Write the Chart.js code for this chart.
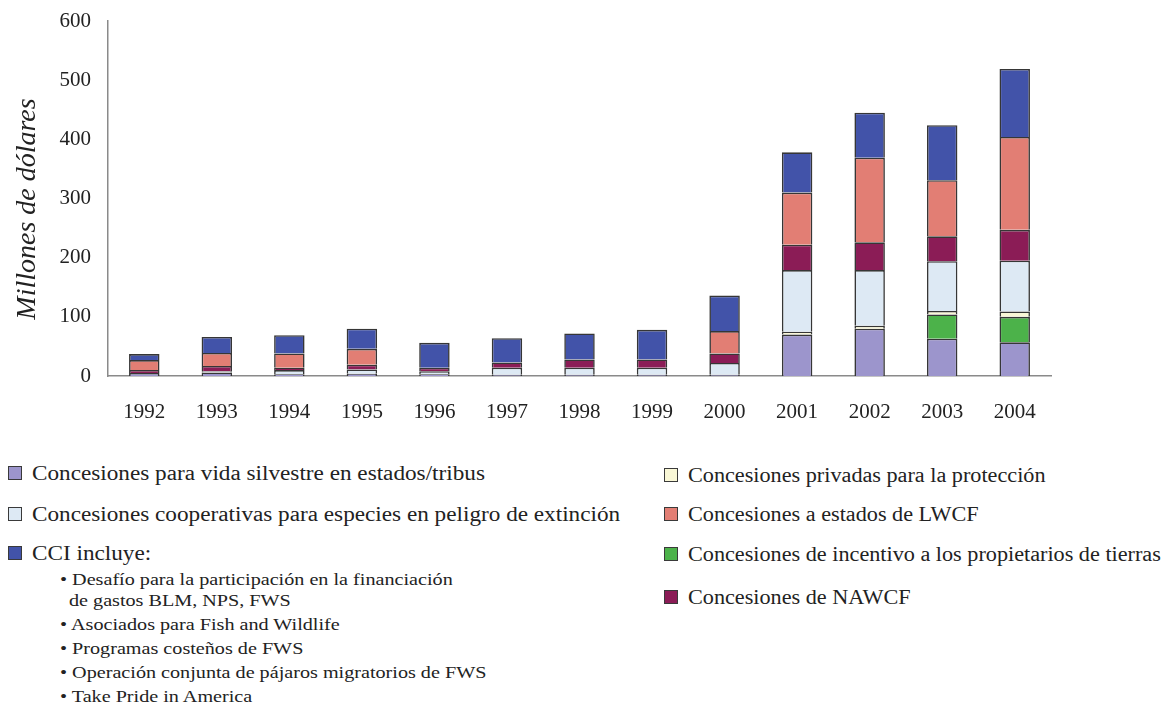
<!DOCTYPE html>
<html><head><meta charset="utf-8">
<script src="https://cdn.jsdelivr.net/npm/chart.js@4.4.1/dist/chart.umd.min.js"></script>
<style>
html,body{margin:0;padding:0;background:#fff;}
body{width:1162px;height:704px;overflow:hidden;position:relative;font-family:"Liberation Serif","Times New Roman",serif;color:#222;}
#c{position:absolute;left:0;top:0;}
.item{position:absolute;white-space:nowrap;height:26px;line-height:26px;font-size:20px;transform:scaleX(1.16);transform-origin:0 50%;}
.item.r{transform:scaleX(1.11);}
.sw{position:absolute;width:12px;height:12px;border:1.5px solid #3a3a3a;}
.sub{position:absolute;white-space:nowrap;font-size:16px;height:20px;line-height:20px;transform:scaleX(1.26);transform-origin:0 50%;}
</style></head>
<body>
<canvas id="c" width="1162" height="430"></canvas>
<div id="legend"></div>
<script>
const years = ['1992','1993','1994','1995','1996','1997','1998','1999','2000','2001','2002','2003','2004'];
// series values (millions of dollars), bottom to top
const stateTribal   = [5, 6, 3, 4, 3, 2, 2, 2, 2, 70, 80, 63, 57];
const landowner     = [0, 0, 0, 0, 0, 0, 0, 0, 0, 0, 0, 41, 43];
const privateStew   = [0, 0, 0, 0, 0, 0, 0, 0, 0, 5, 5, 6, 9];
const cooperative   = [0, 2, 7, 7, 5, 12, 12, 12, 20, 104, 94, 84, 86];
const nawcf         = [5, 9, 4, 8, 6, 9, 14, 14, 16, 43, 47, 42, 52];
const lwcf          = [17, 22, 24, 27, 0, 0, 0, 0, 38, 88, 143, 95, 157];
const cci           = [10, 27, 31, 34, 42, 41, 44, 50, 60, 68, 76, 93, 115];
const yTicks = [0, 100, 200, 300, 400, 500, 600];

const labels = {
  stateTribal: 'Concesiones para vida silvestre en estados/tribus',
  cooperative: 'Concesiones cooperativas para especies en peligro de extinción',
  cci: 'CCI incluye:',
  privateStew: 'Concesiones privadas para la protección',
  lwcf: 'Concesiones a estados de LWCF',
  landowner: 'Concesiones de incentivo a los propietarios de tierras',
  nawcf: 'Concesiones de NAWCF'
};
const cciItems = [
  ['• Desafío para la participación en la financiación', 'de gastos BLM, NPS, FWS'],
  ['• Asociados para Fish and Wildlife'],
  ['• Programas costeños de FWS'],
  ['• Operación conjunta de pájaros migratorios de FWS'],
  ['• Take Pride in America']
];
const colors = {
  stateTribal: '#9c95cc',
  landowner: '#4cb24a',
  privateStew: '#f9f7d6',
  cooperative: '#dde9f4',
  nawcf: '#8b1c56',
  lwcf: '#e27e74',
  cci: '#4253a9'
};
const series = {stateTribal, landowner, privateStew, cooperative, nawcf, lwcf, cci};
const order = ['stateTribal','landowner','privateStew','cooperative','nawcf','lwcf','cci'];

const datasets = order.map(k => ({
  label: labels[k],
  data: series[k],
  backgroundColor: colors[k],
  borderColor: '#363636',
  borderWidth: 1.6,
  barPercentage: 0.42,
  categoryPercentage: 1.0,
  stack: 's'
}));

const serif = '"Liberation Serif","Times New Roman",serif';
const chart = new Chart(document.getElementById('c'), {
  type: 'bar',
  data: { labels: years, datasets },
  options: {
    responsive: false,
    animation: false,
    layout: { padding: { top: 21, right: 111, left: 0, bottom: 0 } },
    plugins: { legend: { display: false }, tooltip: { enabled: false } },
    scales: {
      x: {
        stacked: true,
        grid: { display: false, drawTicks: false },
        border: { display: true, color: '#8a8a8a', width: 1.5 },
        ticks: { color: '#222', font: { family: serif, size: 21 }, padding: 24, maxRotation: 0 },
        afterFit: s => { s.height = 54; }
      },
      y: {
        stacked: true,
        min: 0, max: 600,
        afterBuildTicks: s => { s.ticks = yTicks.map(v => ({ value: v })); },
        grid: { display: false, drawTicks: true, tickLength: 15 },
        border: { display: true, color: '#8a8a8a', width: 1.5 },
        ticks: { color: '#222', font: { family: serif, size: 21 }, padding: 2 },
        title: { display: true, text: 'Millones de dólares\u00A0\u00A0\u00A0', color: '#222',
                 font: { family: serif, size: 28, style: 'italic' }, padding: { top: 11, bottom: 0 } },
        afterFit: s => { s.width = 108; }
      }
    }
  }
});

// HTML legend built from the datasets
const leg = document.getElementById('legend');
function addItem(key, x, cy, cls) {
  const sw = document.createElement('div');
  sw.className = 'sw';
  sw.style.left = x + 'px';
  sw.style.top = (cy - 7.5) + 'px';
  sw.style.background = colors[key];
  leg.appendChild(sw);
  const t = document.createElement('div');
  t.className = 'item' + (cls ? ' ' + cls : '');
  t.style.left = (x + 24) + 'px';
  t.style.top = (cy - 13) + 'px';
  t.textContent = labels[key];
  leg.appendChild(t);
}
addItem('stateTribal', 8, 473);
addItem('cooperative', 8, 514);
addItem('cci', 8, 553);
addItem('privateStew', 664, 475, 'r');
addItem('lwcf', 664, 514, 'r');
addItem('landowner', 664, 554, 'r');
addItem('nawcf', 664, 597, 'r');
const subY = [[580, 601], [625], [649], [673], [697]];
cciItems.forEach((lines, i) => {
  lines.forEach((ln, j) => {
    const d = document.createElement('div');
    d.className = 'sub';
    d.style.left = (j === 0 ? 60 : 69) + 'px';
    d.style.top = (subY[i][j] - 10) + 'px';
    d.textContent = ln;
    leg.appendChild(d);
  });
});
</script>
</body></html>
